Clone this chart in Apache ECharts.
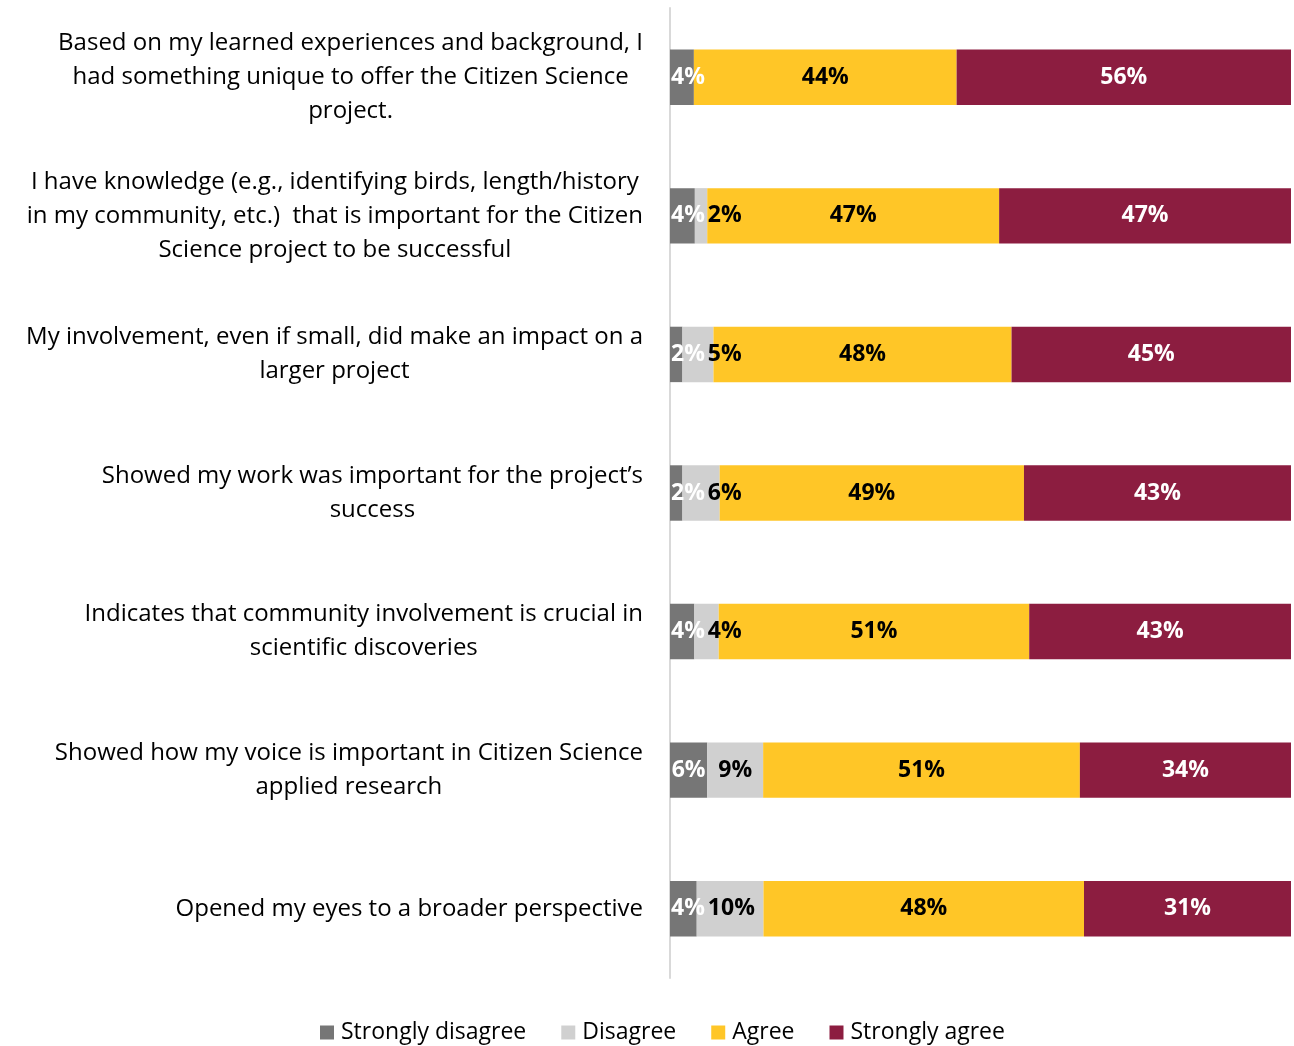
<!DOCTYPE html>
<html>
<head>
<meta charset="utf-8">
<script src="https://cdn.jsdelivr.net/npm/echarts@6/dist/echarts.min.js"></script>
<style>
  html, body { margin: 0; padding: 0; background: #fff; }
  #chart { width: 1294px; height: 1046px; }
</style>
</head>
<body>
<div id="chart"></div>
<script>
// Survey statements (line breaks as they wrap on the axis)
const statements = [
  'Based on my learned experiences and background, I\nhad something unique to offer the Citizen Science\nproject.',
  'I have knowledge (e.g., identifying birds, length/history\nin my community, etc.)  that is important for the Citizen\nScience project to be successful',
  'My involvement, even if small, did make an impact on a\nlarger project',
  'Showed my work was important for the project\u2019s\nsuccess',
  'Indicates that community involvement is crucial in\nscientific discoveries',
  'Showed how my voice is important in Citizen Science\napplied research',
  'Opened my eyes to a broader perspective'
];

const seriesNames = ['Strongly disagree', 'Disagree', 'Agree', 'Strongly agree'];

// Percent of respondents per statement
const stronglyDisagree = [4, 4, 2, 2, 4, 6, 4];
const disagree         = [0, 2, 5, 6, 4, 9, 10];
const agree            = [44, 47, 48, 49, 51, 51, 48];
const stronglyAgree    = [56, 47, 45, 43, 43, 34, 31];

const colors = ['#767676', '#d0d0d0', '#ffc627', '#8c1d40'];
const labelColors = ['#ffffff', '#000000', '#000000', '#ffffff'];

const responses = [stronglyDisagree, disagree, agree, stronglyAgree];
// each bar is drawn as a 100% stack of its own responses
const rowTotals = statements.map((_, i) => responses.reduce((s, arr) => s + arr[i], 0));

const GRID_LEFT = 670;
const FONT = 'Open Sans';
const VALUE_FONT_SIZE = 23;

const measureCtx = document.createElement('canvas').getContext('2d');
function valueTextWidth(t) {
  measureCtx.font = 'bold ' + VALUE_FONT_SIZE + 'px "' + FONT + '"';
  return measureCtx.measureText(t).width;
}

// keep small labels inside the plot and clear of their left neighbour
function nudgeLabel(p) {
  if (p.seriesIndex === 0) {
    const minX = GRID_LEFT + 1;
    if (p.labelRect.x < minX) return { dx: minX - p.labelRect.x };
  } else if (p.seriesIndex === 1) {
    const w0 = valueTextWidth(stronglyDisagree[p.dataIndex] + '%');
    const sdCenter = (GRID_LEFT + p.rect.x) / 2;
    const sdRight = Math.max(sdCenter + w0 / 2, GRID_LEFT + 1 + w0);
    const minX = sdRight + 3;
    if (p.labelRect.x < minX) return { dx: minX - p.labelRect.x };
  }
  return {};
}

const chart = echarts.init(document.getElementById('chart'), null, { renderer: 'canvas' });

const series = responses.map((arr, si) => ({
  name: seriesNames[si],
  type: 'bar',
  stack: 'total',
  barWidth: '40%',
  itemStyle: { color: colors[si] },
  label: {
    show: true,
    position: 'inside',
    offset: [0, 3],
    color: labelColors[si],
    fontFamily: FONT,
    fontWeight: 'bold',
    fontSize: VALUE_FONT_SIZE,
    formatter: p => (arr[p.dataIndex] > 0 ? arr[p.dataIndex] + '%' : '')
  },
  labelLayout: nudgeLabel,
  emphasis: { disabled: true },
  data: arr.map((v, i) => v / rowTotals[i] * 100)
}));

chart.setOption({
  animation: false,
  textStyle: { fontFamily: FONT },
  color: colors,
  grid: { left: GRID_LEFT, right: 3, top: 8, bottom: 68 },
  legend: {
    top: 1016,
    left: 315,
    icon: 'rect',
    itemWidth: 14,
    itemHeight: 14,
    itemGap: 35,
    data: seriesNames,
    textStyle: { fontFamily: FONT, fontSize: 23, color: '#000', padding: [0, 0, 0, 2] }
  },
  xAxis: {
    type: 'value',
    min: 0,
    max: 100,
    show: false
  },
  yAxis: {
    type: 'category',
    inverse: true,
    data: statements,
    axisLine: { show: true, lineStyle: { color: '#d9d9d9', width: 2 } },
    axisTick: { show: false },
    splitLine: { show: false },
    axisLabel: {
      margin: 27,
      formatter: v => v.split('\n').map(l => '{c|' + l + '}').join('\n'),
      rich: {
        c: { align: 'center', fontFamily: FONT, fontSize: 24, lineHeight: 34, color: '#000' }
      }
    }
  },
  series: series
});
</script>
</body>
</html>
